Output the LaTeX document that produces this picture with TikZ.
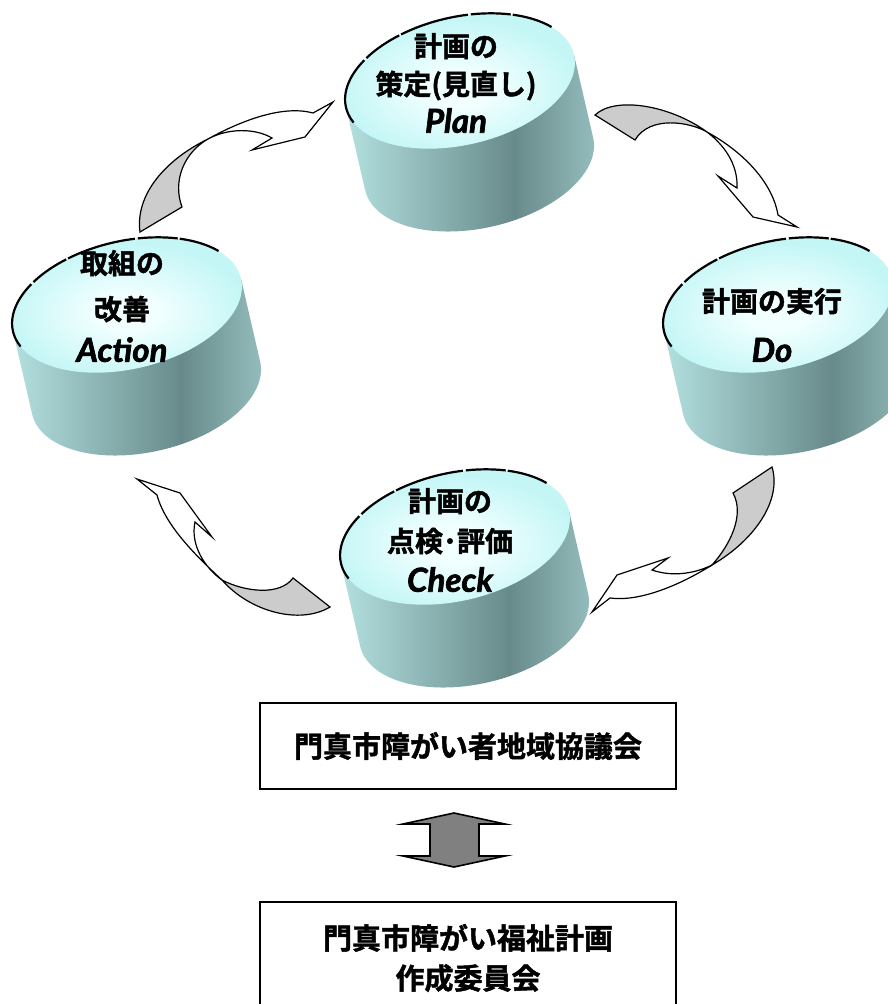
\documentclass[tikz,border=0pt]{standalone}
\usepackage{fontspec}
\setmainfont{Noto Sans CJK JP}[BoldFont={* Bold}, BoldFeatures={FakeBold=1.5}]
\newfontfamily\latn{Lato}[BoldItalicFeatures={FakeBold=2}]
\usetikzlibrary{positioning}

\definecolor{topin}{RGB}{242,255,255}
\definecolor{topout}{RGB}{196,246,246}
\definecolor{sideL}{RGB}{180,224,224}
\definecolor{sideD}{RGB}{104,138,138}
\definecolor{sideR}{RGB}{152,192,192}
\definecolor{tailgray}{RGB}{204,204,204}
\definecolor{dblgray}{RGB}{128,128,128}

\pgfdeclarehorizontalshading{cylside}{100bp}{color(0bp)=(sideL); color(25bp)=(sideL); color(58bp)=(sideD); color(75bp)=(sideR); color(100bp)=(sideR)}
\pgfdeclareradialshading{cyltop}{\pgfpoint{0bp}{0bp}}{color(0bp)=(topin); color(6bp)=(topin); color(25bp)=(topout); color(50bp)=(topout)}

\tikzstyle{bodyarrow} = [draw=black, line width=1.2pt, fill=white]
\tikzstyle{tailarrow} = [draw=black, line width=1.2pt, fill=tailgray]
\tikzstyle{dblarrow} = [draw=black, line width=1.6pt, fill=dblgray]
\tikzstyle{pdca} = [font=\bfseries\fontsize{28}{38}\selectfont, align=center, inner sep=0pt]
\tikzstyle{board} = [draw=black, line width=1.4pt, fill=white, minimum width=416pt, font=\bfseries\fontsize{29}{40}\selectfont, align=center]
\newcommand{\latin}{\latn\bfseries\itshape\fontsize{33}{38}\selectfont}

% cylinder, #1 = centre of the top face
\newcommand{\cylinder}[1]{%
  \begin{scope}[shift={#1}, rotate=13]
    \shade[shading=cylside] (-117,0) -- (-117,85) arc[start angle=180, end angle=0, x radius=117, y radius=64] -- (117,0) -- cycle;
    \shade[shading=cyltop] (0,0) ellipse[x radius=117, y radius=64];
    \draw[line width=2.2pt, dash pattern=on 70pt off 3pt on 40pt off 2pt] (165:117 and 64) arc[start angle=165, end angle=330, x radius=117, y radius=64];
  \end{scope}}

\begin{document}
\begin{tikzpicture}[x=1pt, y=-1pt]
        \useasboundingbox (0,0) rectangle (888,1004);

        % turning arrows
        \draw[tailarrow] (595,115) .. controls (615,96) and (670,105) .. (707,132) .. controls (690,122) and (650,115) .. (635,140) -- cycle;
        \draw[bodyarrow] (707,132) .. controls (740,150) and (772,180) .. (778,215) -- (797,227) -- (753,217) -- (718,176) -- (737,188) .. controls (738,168) and (728,148) .. (707,132) -- cycle;
        \draw[tailarrow] (772,467) .. controls (782,500) and (755,540) .. (712,565) .. controls (730,545) and (745,515) .. (733,493) -- cycle;
        \draw[bodyarrow] (712,565) .. controls (680,585) and (640,602) .. (610,598) -- (592,612) -- (617,575) -- (668,558) -- (652,570) .. controls (675,578) and (698,572) .. (712,565) -- cycle;
        \draw[tailarrow] (330,607) .. controls (300,625) and (250,612) .. (222,580) .. controls (245,592) and (280,596) .. (293,578) -- cycle;
        \draw[bodyarrow] (222,580) .. controls (195,555) and (165,525) .. (157,495) -- (137,479) -- (180,493) -- (212,537) -- (195,522) .. controls (190,545) and (205,568) .. (222,580) -- cycle;
        \draw[tailarrow] (140,232) .. controls (135,195) and (165,160) .. (208,139) .. controls (185,152) and (172,180) .. (182,207) -- cycle;
        \draw[bodyarrow] (208,139) .. controls (235,124) and (280,104) .. (313,113) -- (333,102) -- (305,137) -- (252,150) -- (272,138) .. controls (255,128) and (228,128) .. (208,139) -- cycle;

        \cylinder{(460,81)}
        \cylinder{(778,305)}
        \cylinder{(455,537)}
        \cylinder{(127,305)}

        \node (plan) [pdca] at (456,83) {計画の\\策定(見直し)\\{\latin Plan}};
        \node (do) [pdca] at (772,325) {計画の実行\\[12pt]{\latin Do}};
        \node (check) [pdca] at (450,540) {計画の\\[2pt]点検･評価\\[2pt]{\latin Check}};
        \node (action) [pdca] at (122,306) {取組の\\[8pt]改善\\[4pt]{\latin Action}};

        \node (kyogikai) [board, minimum height=86pt] at (468,746) {門真市障がい者地域協議会};
        \node (iinkai) [board, minimum height=112pt] at (468,958) {門真市障がい福祉計画\\作成委員会};

        %\draw[dblarrow] (kyogikai) -- (iinkai);
        \coordinate (link) at (454,840);
        \draw[dblarrow, shift={(link)}] (0,-27) -- (51,-16) -- (25,-16) -- (25,16) -- (51,16) -- (0,27) -- (-51,16) -- (-24,16) -- (-24,-16) -- (-51,-16) -- cycle;

    \end{tikzpicture}
\end{document}
